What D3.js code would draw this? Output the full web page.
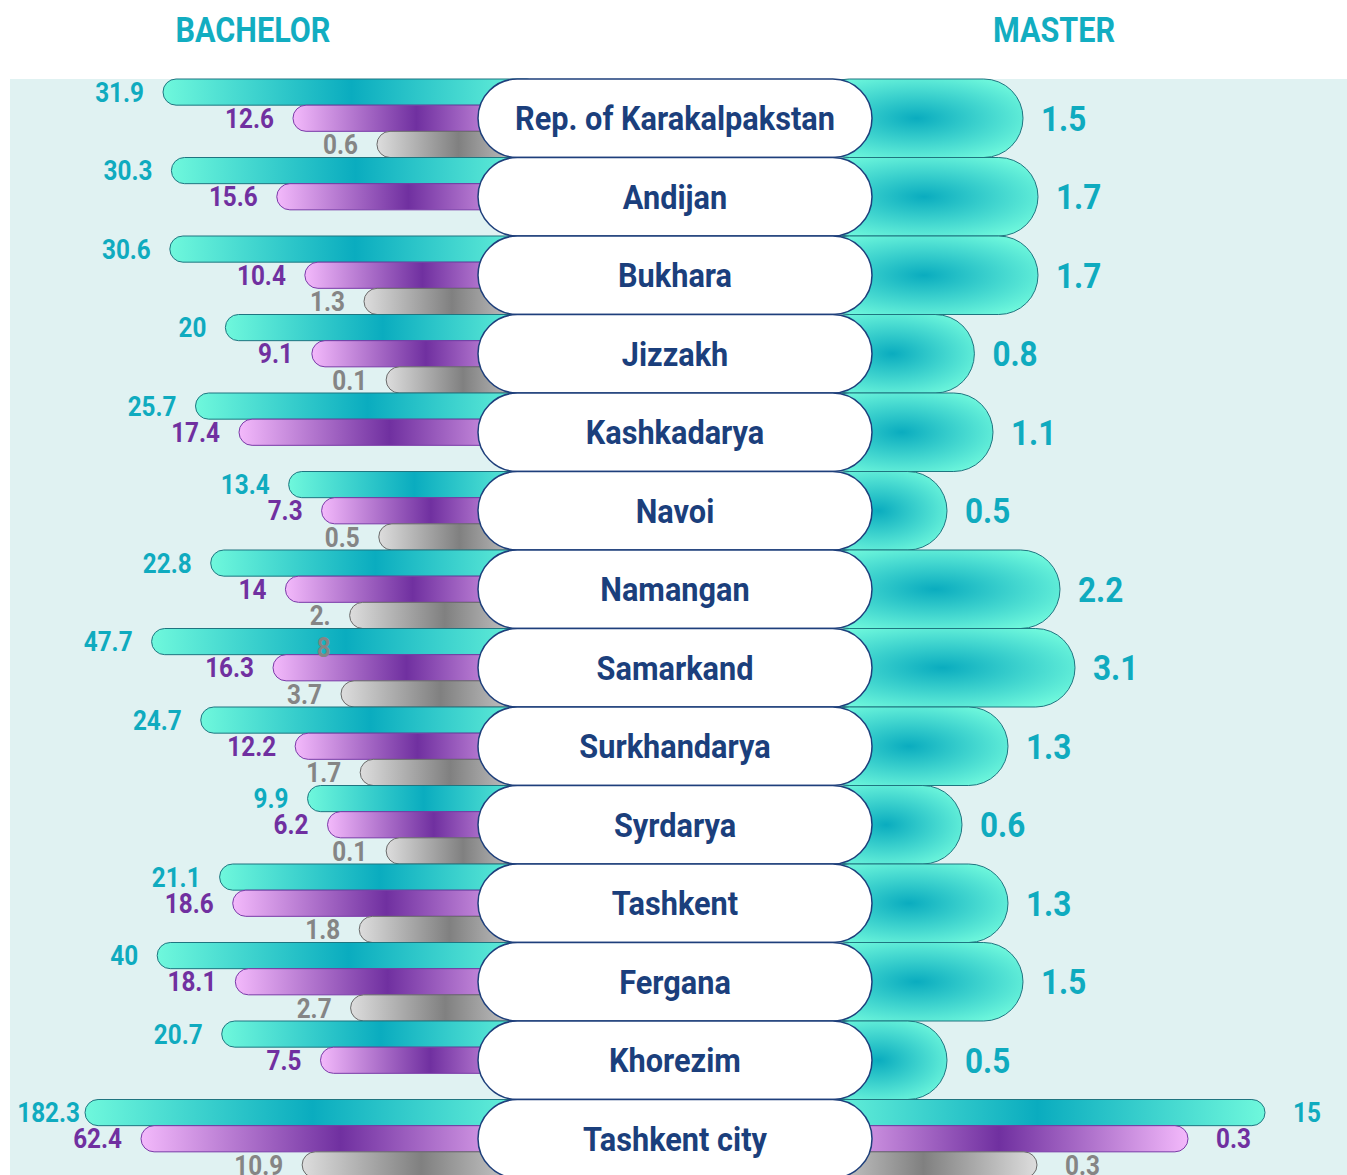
<!DOCTYPE html>
<html>
<head>
<meta charset="utf-8">
<script src="https://cdn.jsdelivr.net/npm/d3@7"></script>
<style>
  body { margin: 0; background: #fff; }
  text { font-family: Roboto, "Noto Sans", sans-serif; font-weight: 700; }
</style>
</head>
<body>
<div id="chart"></div>
<script>
// data

var regions = ["Rep. of Karakalpakstan", "Andijan", "Bukhara", "Jizzakh", "Kashkadarya", "Navoi",
  "Namangan", "Samarkand", "Surkhandarya", "Syrdarya", "Tashkent", "Fergana", "Khorezim", "Tashkent city"];

var bachelorCyan = [31.9, 30.3, 30.6, 20, 25.7, 13.4, 22.8, 47.7, 24.7, 9.9, 21.1, 40, 20.7, 182.3];
var bachelorPurple = [12.6, 15.6, 10.4, 9.1, 17.4, 7.3, 14, 16.3, 12.2, 6.2, 18.6, 18.1, 7.5, 62.4];
var bachelorGray = [0.6, null, 1.3, 0.1, null, 0.5, 2.8, 3.7, 1.7, 0.1, 1.8, 2.7, null, 10.9];

var masterCyan = [1.5, 1.7, 1.7, 0.8, 1.1, 0.5, 2.2, 3.1, 1.3, 0.6, 1.3, 1.5, 0.5, 15];
var masterPurple = [null, null, null, null, null, null, null, null, null, null, null, null, null, 0.3];
var masterGray = [null, null, null, null, null, null, null, null, null, null, null, null, null, 0.3];

var headers = ["BACHELOR", "MASTER"];

// label of Namangan gray bar wraps in the original
var wrappedLabels = [{ region: "Namangan", series: 2 }];

//drawing area

var svgWidth = 1347;
var svgHeight = 1175;
var cond = 0.85; // squeeze text to look condensed

var leftEnd = 540;   // bachelor bars end under the label pill
var rightStart = 810; // master bars start under the label pill
var centerX = 675;

var colors = ["#0fabbf", "#7030a0", "#858585"];
var strokes = ["#1f7580", "#7a3aa8", "#6a6a6a"];

var svg = d3.select("#chart")
  .append("svg")
  .attr("width", svgWidth)
  .attr("height", svgHeight);

var defs = svg.append("defs");

function linGrad(id, edge, mid) {
  var g = defs.append("linearGradient").attr("id", id);
  g.append("stop").attr("offset", "0%").attr("stop-color", edge);
  g.append("stop").attr("offset", "50%").attr("stop-color", mid);
  g.append("stop").attr("offset", "100%").attr("stop-color", edge);
}
linGrad("g0", "#6ff8dc", "#0aacbf");
linGrad("g1", "#f3b9fb", "#7030a0");
linGrad("g2", "#dddddd", "#808080");

var rg = defs.append("radialGradient").attr("id", "gBig")
  .attr("cx", "0.5").attr("cy", "0.5").attr("r", "0.6");
rg.append("stop").attr("offset", "0%").attr("stop-color", "#0aacbf");
rg.append("stop").attr("offset", "100%").attr("stop-color", "#6ff8dc");

svg.append("rect")
  .attr("x", 10).attr("y", 79)
  .attr("width", svgWidth - 10).attr("height", svgHeight - 79)
  .attr("fill", "#e0f2f2");

// scales

var y = d3.scaleBand().domain(regions).range([79, 79 + regions.length * 78.5]);
var sub = d3.scaleBand().domain([0, 1, 2]).range([0, y.bandwidth()]);

// bar length, bachelor (compressed, hand made in the original)
var bachLen = d3.scaleLinear()
  .domain([0, 1.3, 3.7, 16.3, 17.4, 31.9, 62.4, 182.3])
  .range([152, 176, 199, 267, 301, 377, 399, 455]);

// bar length, master
var masterLen = [
  d3.scaleLinear().domain([0, 0.5, 0.6, 1.1, 1.7, 2.2, 3.1, 15]).range([100, 137, 152, 183, 228, 250, 265, 455]),
  d3.scaleLinear().domain([0, 0.3]).range([0, 378]),
  d3.scaleLinear().domain([0, 0.3]).range([0, 227])
];

var bach = [];
var mast = [];
regions.forEach(function (r, i) {
  [bachelorCyan, bachelorPurple, bachelorGray].forEach(function (arr, s) {
    if (arr[i] != null) bach.push({ region: r, series: s, value: arr[i] });
  });
  var ms = [masterCyan, masterPurple, masterGray];
  var count = ms.filter(function (a) { return a[i] != null; }).length;
  ms.forEach(function (arr, s) {
    if (arr[i] != null) mast.push({ region: r, series: s, value: arr[i], big: count == 1 });
  });
});

var bh = sub.bandwidth();

// bachelor bars
svg.append("g").selectAll("rect")
  .data(bach)
  .enter()
  .append("rect")
  .attr("x", function (d) { return leftEnd - bachLen(d.value); })
  .attr("y", function (d) { return y(d.region) + sub(d.series); })
  .attr("width", function (d) { return bachLen(d.value); })
  .attr("height", bh)
  .attr("rx", bh / 2)
  .attr("fill", function (d) { return "url(#g" + d.series + ")"; })
  .attr("stroke", function (d) { return strokes[d.series]; })
  .attr("stroke-width", 1);

// master bars
svg.append("g").selectAll("rect")
  .data(mast)
  .enter()
  .append("rect")
  .attr("x", rightStart)
  .attr("y", function (d) { return d.big ? y(d.region) : y(d.region) + sub(d.series); })
  .attr("width", function (d) { return masterLen[d.series](d.value); })
  .attr("height", function (d) { return d.big ? y.bandwidth() : bh; })
  .attr("rx", function (d) { return d.big ? y.bandwidth() / 2 : bh / 2; })
  .attr("fill", function (d) { return d.big ? "url(#gBig)" : "url(#g" + d.series + ")"; })
  .attr("stroke", function (d) { return strokes[d.series]; })
  .attr("stroke-width", 1);

// region pills
var pills = svg.append("g").selectAll("g")
  .data(regions)
  .enter()
  .append("g");

pills.append("rect")
  .attr("x", 478)
  .attr("y", function (d) { return y(d); })
  .attr("width", 394)
  .attr("height", y.bandwidth())
  .attr("rx", y.bandwidth() / 2)
  .attr("fill", "#fff")
  .attr("stroke", "#1e3f7b")
  .attr("stroke-width", 1.5);

pills.append("text")
  .attr("transform", function (d) {
    return "translate(" + centerX + "," + (y(d) + y.bandwidth() / 2) + ") scale(0.93,1)";
  })
  .attr("dy", "0.36em")
  .attr("text-anchor", "middle")
  .style("font-size", "33px")
  .attr("fill", "#1b3f7c")
  .text(function (d) { return d; });

// value labels, bachelor
svg.append("g").selectAll("text")
  .data(bach)
  .enter()
  .append("text")
  .attr("transform", function (d) {
    var x = Math.max(leftEnd - bachLen(d.value) - 19, 80);
    return "translate(" + x + "," + (y(d.region) + sub(d.series) + bh / 2) + ") scale(0.9,1)";
  })
  .attr("text-anchor", "end")
  .style("font-size", "27px")
  .attr("fill", function (d) { return colors[d.series]; })
  .each(function (d) {
    var t = d3.select(this);
    var label = String(d.value);
    var wrap = wrappedLabels.some(function (w) { return w.region == d.region && w.series == d.series; });
    var lines = wrap ? [label.slice(0, 2), label.slice(2)] : [label];
    lines.forEach(function (l, k) {
      t.append("tspan").attr("x", 0).attr("y", k * 32).attr("dy", "0.36em").text(l);
    });
  });

// value labels, master
svg.append("g").selectAll("text")
  .data(mast)
  .enter()
  .append("text")
  .attr("transform", function (d) {
    var cy = d.big ? y(d.region) + y.bandwidth() / 2 : y(d.region) + sub(d.series) + bh / 2;
    return "translate(" + (rightStart + masterLen[d.series](d.value) + (d.big ? 18 : 28)) + "," + cy + ") scale(0.9,1)";
  })
  .attr("dy", "0.36em")
  .style("font-size", function (d) { return d.big ? "35px" : "27px"; })
  .attr("fill", function (d) { return colors[d.series]; })
  .text(function (d) { return d.value; });

// headers
svg.append("g").selectAll("text")
  .data(headers)
  .enter()
  .append("text")
  .attr("transform", function (d, i) { return "translate(" + (i == 0 ? 253 : 1054) + ",42) scale(" + cond + ",1)"; })
  .attr("text-anchor", "middle")
  .style("font-size", "36px")
  .attr("fill", "#12adc1")
  .text(function (d) { return d; });
</script>
</body>
</html>
